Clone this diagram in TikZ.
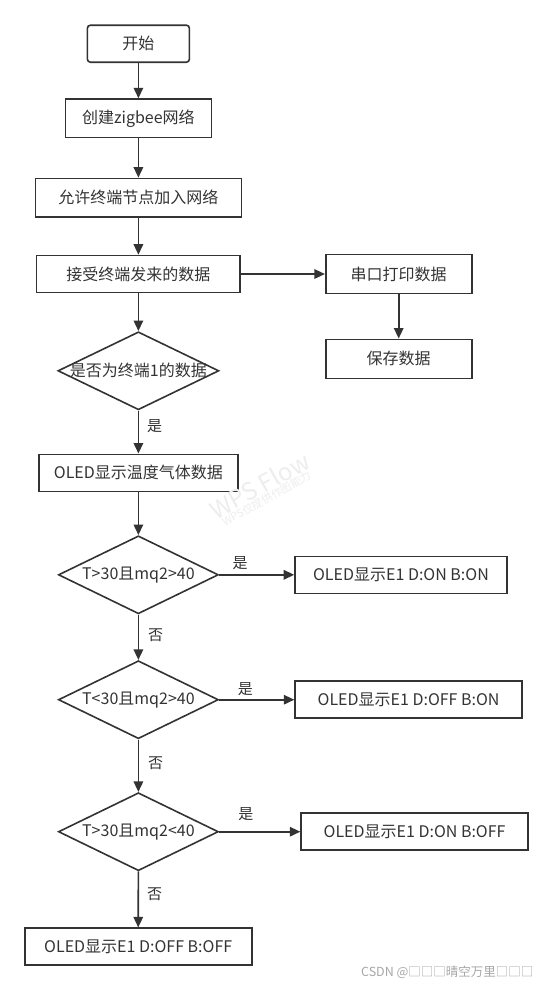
\documentclass[tikz,border=0pt]{standalone}
\usepackage{fontspec}
\setmainfont{Noto Sans CJK SC}
\usepackage{tikz}
\usetikzlibrary{shapes.geometric}
\usetikzlibrary{arrows.meta}
\definecolor{linegray}{HTML}{333333}
\pgfkeys{tikz/box/.style={draw=linegray, line width=1.6pt, text=linegray,
                              inner sep=0pt, minimum height=37pt,
                              font=\fontsize{16}{19}\selectfont}}
\pgfkeys{tikz/decision/.style={diamond, draw=linegray, line width=1.6pt, text=linegray,
                                   inner sep=0pt, minimum width=160pt, minimum height=78pt,
                                   font=\fontsize{16}{19}\selectfont}}
\pgfkeys{tikz/arr/.style={draw=linegray, line width=1.6pt,
                              -{Triangle[length=10.5pt,width=9.5pt]}}}
\pgfkeys{tikz/lbl/.style={text=linegray, inner sep=2pt,
                              font=\fontsize{15}{18}\selectfont}}
\newcommand{\dtext}[1]{\makebox[0pt]{#1}}

\begin{document}
\begin{tikzpicture}[x=1pt, y=-1pt]
                \useasboundingbox (0,0) rectangle (545,989);

                \node[box, rounded corners=3pt, minimum width=102pt] (start) at (138.4, 43.7) {开始};
                \node[box, minimum width=146pt, minimum height=38.5pt] (n1) at (138.4, 118.3) {创建zigbee网络};
                \node[box, minimum width=206pt, minimum height=38.5pt] (n2) at (138.4, 197.7) {允许终端节点加入网络};
                \node[box, minimum width=203.5pt] (n3) at (138.4, 274) {接受终端发来的数据};
                \node[box, minimum width=146pt, minimum height=39pt] (n4) at (398.7, 274) {串口打印数据};
                \node[box, minimum width=146pt, minimum height=39pt] (n5) at (398.7, 358.8) {保存数据};

                \draw[arr] (start) -- (n1);
                \draw[arr] (n1) -- (n2);
                \draw[arr] (n2) -- (n3);
                \draw[arr] (n3) -- (n4);
                \draw[arr] (n4) -- (n5);

                \node[decision, minimum width=161pt] (d1) at (138.4, 370.8) {\dtext{是否为终端1的数据}};
                \node[box, minimum width=199pt] (n6) at (138.4, 472.8) {OLED显示温度气体数据};

                \draw[arr] (n3) -- (d1);
                \draw[arr] (d1) -- node[lbl, pos=0.35, right=6pt] {是} (n6);

                \node[decision] (d2) at (138.4, 574.8) {\dtext{T>30且mq2>40}};
                \node[box, minimum width=212pt] (n7) at (401, 574.8) {OLED显示E1 D:ON B:ON};
                \node[decision] (d3) at (138.4, 699.7) {\dtext{T<30且mq2>40}};
                \node[box, minimum width=227pt] (n8) at (408.6, 699.7) {OLED显示E1 D:OFF B:ON};
                \node[decision] (d4) at (138.4, 831.7) {\dtext{T>30且mq2<40}};
                \node[box, minimum width=227pt] (n9) at (414.6, 831.7) {OLED显示E1 D:ON B:OFF};
                \node[box, minimum width=227pt] (n10) at (138.2, 946.7) {OLED显示E1 D:OFF B:OFF};

                \draw[arr] (n6) -- (d2);
                \draw[arr] (d2) -- node[lbl, pos=0.28, above=2.5pt] {是} (n7);
                \draw[arr] (d2) -- node[lbl, pos=0.45, right=7pt] {否} (d3);
                \draw[arr] (d3) -- node[lbl, pos=0.35, above=1pt] {是} (n8);
                \draw[arr] (d3) -- node[lbl, pos=0.45, right=7pt] {否} (d4);
                \draw[arr] (d4) -- node[lbl, pos=0.33, above=8pt] {是} (n9);
                \draw[arr] (d4) -- node[lbl, pos=0.4, right=6pt] {否} (n10);

                % watermarks
                \node[text=black!7, rotate=29, align=center, inner sep=0pt] (wm) at (262, 490)
                    {{\fontsize{24}{24}\selectfont WPS Flow}\\[-2pt]{\fontsize{11}{13}\selectfont WPS仅提供作图能力}};
                \node[text=black!35, anchor=east, font=\fontsize{12.5}{14}\selectfont] (csdn) at (537, 972.7) {CSDN @□□□晴空万里□□□};
            \end{tikzpicture}
\end{document}
